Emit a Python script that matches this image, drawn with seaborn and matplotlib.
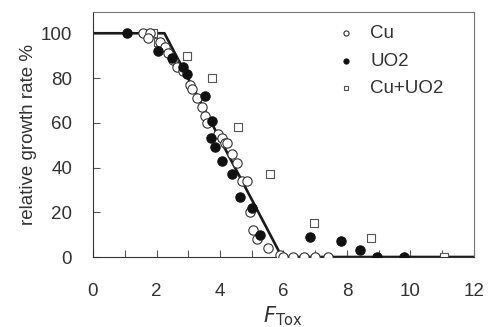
import numpy as np
import matplotlib
matplotlib.use("Agg")
import matplotlib.pyplot as plt
from matplotlib.ticker import MultipleLocator
import seaborn as sns

# fitted curve (break points)
fit_x = [0, 2.25, 5.95, 12]
fit_y = [100, 100, 0, 0]

# Cu (open circles)
cu_x = [1.58, 1.8, 1.74, 2.1, 2.27, 2.37, 2.52, 2.65, 2.84, 3.06, 3.12, 3.28,
        3.43, 3.53, 3.6, 3.94, 4.07, 4.16, 4.22, 4.38, 4.54, 4.7, 4.86, 4.95,
        5.05, 5.15, 5.5, 5.9, 6.0, 6.3, 6.65, 7.0, 7.4]
cu_y = [100, 100, 98, 96, 94, 91, 88, 85, 83, 77, 75, 71,
        67, 63, 60, 55, 53, 51, 51, 46, 42, 34, 34, 20,
        12, 8, 4, 1, 0, 0, 0, 0, 0]

# UO2 (filled circles)
uo2_x = [1.07, 2.05, 2.5, 2.84, 2.95, 3.53, 3.75, 3.72, 3.85, 4.07, 4.38,
         4.64, 5.02, 5.27, 6.85, 7.8, 8.42, 8.95, 9.8]
uo2_y = [100, 92, 89, 85, 82, 72, 61, 53, 49, 43, 37,
         27, 22, 10, 9, 7, 3, 0, 0]

# Cu+UO2 (open squares)
mix_x = [1.9, 2.05, 2.97, 3.75, 4.57, 5.58, 6.95, 8.75, 11.05]
mix_y = [100, 96, 90, 80, 58, 37, 15, 8.5, 0]

sns.set_style("white")
plt.rcParams["font.family"] = ["Liberation Sans", "DejaVu Sans"]
plt.rcParams["xtick.direction"] = "in"
plt.rcParams["ytick.direction"] = "in"

fig = plt.figure(figsize=(4.88, 3.27), dpi=100)
ax = fig.add_axes([93 / 488, 1 - 257 / 327, 381 / 488, 245 / 327])

sns.lineplot(x=fit_x, y=fit_y, color="#1a1a1a", linewidth=1.9, ax=ax,
             legend=False, zorder=1)
sns.scatterplot(x=cu_x, y=cu_y, marker="o", s=45, facecolor="white",
                edgecolor="#333333", linewidth=0.8, label="Cu", ax=ax, zorder=3)
sns.scatterplot(x=uo2_x, y=uo2_y, marker="o", s=45, color="#111111",
                edgecolor="#111111", linewidth=0.8, label="UO2", ax=ax, zorder=4)
sns.scatterplot(x=mix_x, y=mix_y, marker="s", s=40, facecolor="white",
                edgecolor="#555555", linewidth=0.8, label="Cu+UO2", ax=ax, zorder=2)

ax.set_xlim(0, 12)
ax.set_ylim(0, 109.5)
ax.xaxis.set_major_locator(MultipleLocator(2))
ax.xaxis.set_minor_locator(MultipleLocator(1))
ax.set_yticks([0, 20, 40, 60, 80, 100])
ax.tick_params(axis="x", which="both", bottom=True, length=5, width=0.8,
               color="#555555", labelsize=13.5, pad=19, labelcolor="#333333")
ax.tick_params(axis="y", left=True, length=5, width=0.8, color="#555555",
               labelsize=13.5, pad=15, labelcolor="#333333")
for sp in ax.spines.values():
    sp.set_color("#777777")
    sp.set_linewidth(0.8)
ax.spines["bottom"].set_color("#333333")
ax.spines["left"].set_color("#333333")

ax.set_ylabel("relative growth rate %", fontsize=13.5, color="#333333", labelpad=3)
ax.set_xlabel(r"$\mathit{F}_{\rm Tox}$", fontsize=15, color="#333333", labelpad=3)

leg = ax.legend(loc="upper right", frameon=False, fontsize=13.5, markerscale=0.55,
                handletextpad=0.3, labelspacing=0.55, borderaxespad=0.3,
                bbox_to_anchor=(0.955, 1.0))
for t in leg.get_texts():
    t.set_color("#333333")

fig.savefig("out.png", dpi=100)
